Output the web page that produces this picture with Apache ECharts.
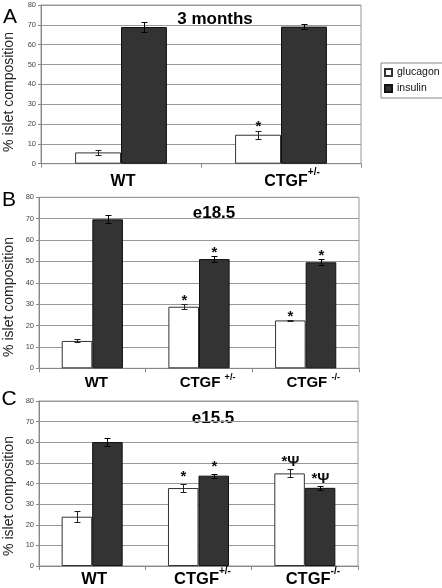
<!DOCTYPE html>
<html>
<head>
<meta charset="utf-8">
<script src="https://cdn.jsdelivr.net/npm/echarts@6/dist/echarts.min.js"></script>
<style>
html,body{margin:0;padding:0;background:#fff;}
#chart{width:442px;height:588px;}
</style>
</head>
<body>
<div id="chart"></div>
<script>
// ---------------- DATA ----------------
const seriesNames = ['glucagon', 'insulin'];
const panelLetters = ['A', 'B', 'C'];
const panelTitles = ['3 months', 'e18.5', 'e15.5'];
const yAxisName = '% islet composition';

const categoriesA = ['WT', 'CTGF+/-'];
const glucagonA = [5.7, 14.6];
const glucagonErrA = [1.2, 1.9];
const insulinA = [68.9, 69.1];
const insulinErrA = [2.6, 1.3];
const glucagonSigA = ['', '*'];
const insulinSigA = ['', ''];

const categoriesB = ['WT', 'CTGF +/-', 'CTGF -/-'];
const glucagonB = [12.8, 28.8, 22.4];
const glucagonErrB = [0.7, 1.2, 0.3];
const insulinB = [69.7, 51.1, 49.6];
const insulinErrB = [1.9, 1.6, 1.4];
const glucagonSigB = ['', '*', '*'];
const insulinSigB = ['', '*', '*'];

const categoriesC = ['WT', 'CTGF+/-', 'CTGF-/-'];
const glucagonC = [23.9, 37.8, 44.9];
const glucagonErrC = [2.6, 1.8, 1.9];
const insulinC = [60.1, 43.8, 37.9];
const insulinErrC = [2.1, 1.0, 1.0];
const glucagonSigC = ['', '*', '*\u03A8'];
const insulinSigC = ['', '*', '*\u03A8'];

const yMin = 0, yMax = 80, yInterval = 10;

// ---------------- LAYOUT ----------------
const FONT = 'Liberation Sans, Arial, sans-serif';
const panels = [
  {cats: categoriesA, g: glucagonA, gErr: glucagonErrA, ins: insulinA, iErr: insulinErrA, gSig: glucagonSigA, iSig: insulinSigA,
   grid: {left: 41, top: 5, width: 320, height: 158.7}, shifts: [2, 11],
   lab: {size: 16, sup: 10, mainLH: 28, supLH: 10, supVA: 'top', margin: 4}, sigLift: 4.5,
   letterPos: [10, 17.5], titlePos: [215, 19], namePos: [9, 92]},
  {cats: categoriesB, g: glucagonB, gErr: glucagonErrB, ins: insulinB, iErr: insulinErrB, gSig: glucagonSigB, iSig: insulinSigB,
   grid: {left: 39, top: 197.3, width: 320, height: 171}, shifts: [4, 8.5, 7.5],
   lab: {size: 15, sup: 9, mainLH: 20, supLH: 16, supVA: 'top', margin: 5}, sigLift: 3.5,
   letterPos: [9, 200], titlePos: [214, 213], namePos: [9, 297]},
  {cats: categoriesC, g: glucagonC, gErr: glucagonErrC, ins: insulinC, iErr: insulinErrC, gSig: glucagonSigC, iSig: insulinSigC,
   grid: {left: 39, top: 401, width: 319, height: 167.3}, shifts: [2, 4, 8],
   lab: {size: 16.5, sup: 10, mainLH: 27, supLH: 10, supVA: 'top', margin: 0}, sigLift: 7.5,
   letterPos: [9, 399], titlePos: [213, 418], namePos: [9, 496]}
];
const BAR_FRAC = 0.287;

function splitLabel(s) {
  const m = s.match(/^(.*?)([+\-]\/-)$/);
  if (m) return [m[1], m[2]];
  return [s, ''];
}

const grids = [], xAxes = [], yAxes = [], series = [], graphics = [];

panels.forEach((p, k) => {
  grids.push(Object.assign({show: true, borderColor: '#999', borderWidth: 1, backgroundColor: '#fff'}, p.grid));
  const rich = {};
  p.shifts.forEach((sh, i) => {
    rich['m' + i] = {fontSize: p.lab.size, fontWeight: 'bold', color: '#000', fontFamily: FONT,
                     lineHeight: p.lab.mainLH, verticalAlign: 'middle',
                     padding: [0, 0, 0, sh > 0 ? 2 * sh : 0]};
    rich['s' + i] = {fontSize: p.lab.sup, fontWeight: 'bold', color: '#000', fontFamily: FONT,
                     lineHeight: p.lab.supLH, verticalAlign: p.lab.supVA,
                     padding: [0, sh < 0 ? -2 * sh : 0, 0, 0]};
  });
  xAxes.push({
    type: 'category', gridIndex: k, data: p.cats, boundaryGap: true,
    axisLine: {lineStyle: {color: '#888', width: 1}},
    axisTick: {show: true, length: 4, lineStyle: {color: '#888'}},
    axisLabel: {
      margin: p.lab.margin, interval: 0,
      formatter: (value, idx) => {
        const [base, sup] = splitLabel(value);
        return '{m' + idx + '|' + base + '}' + (sup ? '{s' + idx + '|' + sup + '}' : '');
      },
      rich: rich
    }
  });
  yAxes.push({
    type: 'value', gridIndex: k, min: yMin, max: yMax, interval: yInterval,
    axisLine: {show: true, lineStyle: {color: '#888'}},
    axisTick: {show: true, length: 3, lineStyle: {color: '#888'}},
    axisLabel: {fontSize: 7.5, color: '#444', margin: 5, fontFamily: FONT},
    splitLine: {lineStyle: {color: '#999', width: 1}}
  });
  series.push({
    name: seriesNames[0], type: 'bar', xAxisIndex: k, yAxisIndex: k, data: p.g,
    barWidth: (BAR_FRAC * 100) + '%', barGap: '0%',
    itemStyle: {color: '#fff', borderColor: '#333', borderWidth: 1}
  });
  series.push({
    name: seriesNames[1], type: 'bar', xAxisIndex: k, yAxisIndex: k, data: p.ins,
    barWidth: (BAR_FRAC * 100) + '%', barGap: '0%',
    itemStyle: {color: '#333', borderColor: '#111', borderWidth: 1}
  });
  const n = p.cats.length;
  const errData = p.g.map((v, i) => [i, v]).concat(p.ins.map((v, i) => [i, v]));
  series.push({
    name: 'err' + k, type: 'custom', xAxisIndex: k, yAxisIndex: k, z: 10, clip: false,
    data: errData,
    renderItem: function (params, api) {
      const idx = params.dataIndex;
      const grp = idx < n ? 0 : 1;
      const i = api.value(0);
      const v = api.value(1);
      const e = grp === 0 ? p.gErr[i] : p.iErr[i];
      const sig = grp === 0 ? p.gSig[i] : p.iSig[i];
      const base = api.coord([i, v]);
      const band = api.size([1, 0])[0];
      const bw = band * BAR_FRAC;
      const cx = Math.round(base[0] + (grp === 0 ? -bw / 2 : bw / 2)) + 0.5;
      const yT = Math.round(api.coord([i, v + e])[1]) + 0.5;
      const yB = Math.round(api.coord([i, v - e])[1]) + 0.5;
      const col = grp === 0 ? '#222' : '#000';
      const ls = {stroke: col, lineWidth: 1};
      const ch = [
        {type: 'line', shape: {x1: cx, y1: yT, x2: cx, y2: yB}, style: ls},
        {type: 'line', shape: {x1: cx - 3, y1: yT, x2: cx + 3, y2: yT}, style: ls},
        {type: 'line', shape: {x1: cx - 3, y1: yB, x2: cx + 3, y2: yB}, style: ls}
      ];
      if (sig) {
        ch.push({type: 'text', x: cx, y: yT - p.sigLift,
          style: {text: sig, fontSize: 15, fontWeight: 'bold', fontFamily: FONT, fill: '#111',
                  align: 'center', verticalAlign: 'middle'}});
      }
      return {type: 'group', children: ch};
    }
  });
  graphics.push({type: 'text', x: p.letterPos[0], y: p.letterPos[1],
    style: {text: panelLetters[k], fontSize: 21, fontFamily: FONT, fill: '#000', align: 'center', verticalAlign: 'middle'}});
  graphics.push({type: 'text', x: p.titlePos[0], y: p.titlePos[1],
    style: {text: panelTitles[k], fontSize: 17, fontWeight: 'bold', fontFamily: FONT, fill: '#000', align: 'center', verticalAlign: 'middle'}});
  graphics.push({type: 'text', x: p.namePos[0], y: p.namePos[1], rotation: Math.PI / 2,
    style: {text: yAxisName, fontSize: 14, fontFamily: FONT, fill: '#222', align: 'center', verticalAlign: 'middle'}});
});

const chart = echarts.init(document.getElementById('chart'), null, {renderer: 'canvas'});
chart.setOption({
  backgroundColor: '#fff',
  animation: false,
  textStyle: {fontFamily: FONT},
  grid: grids,
  xAxis: xAxes,
  yAxis: yAxes,
  legend: {
    data: seriesNames, orient: 'vertical', left: 381, top: 63,
    padding: [4, 3, 4, 3], itemGap: 5, itemWidth: 7, itemHeight: 7,
    borderColor: '#888', borderWidth: 1, backgroundColor: '#fff',
    icon: 'rect',
    textStyle: {fontSize: 10.5, color: '#111', fontFamily: FONT}
  },
  series: series,
  graphic: graphics
});
</script>
</body>
</html>
